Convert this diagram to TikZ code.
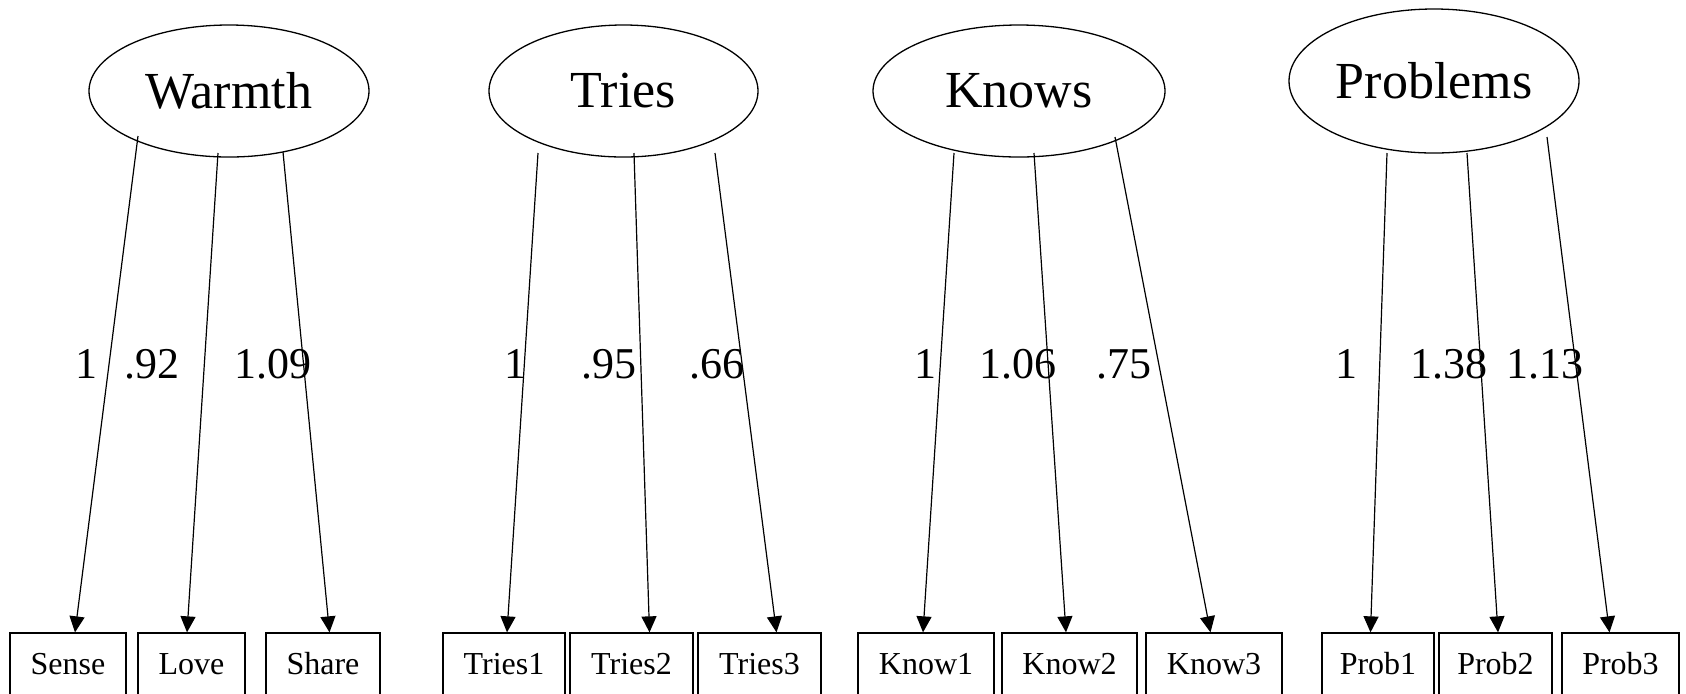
\documentclass[tikz,border=0pt]{standalone}
\usepackage{fontspec}
\setmainfont{Liberation Serif}
\usetikzlibrary{shapes.geometric,arrows.meta}
\begin{document}
\begin{tikzpicture}[x=0.5pt,y=-0.5pt,
  latent/.style={draw,ellipse,inner sep=0pt,line width=0.65pt,
    font=\fontsize{26}{30}\selectfont},
  indicator/.style={draw,rectangle,inner sep=0pt,minimum height=31pt,
    line width=0.65pt,font=\fontsize{16}{19}\selectfont},
  loading/.style={anchor=base,inner sep=0pt,font=\fontsize{22}{26}\selectfont},
  edgeline/.style={line width=0.6pt,-{Triangle[length=8pt,width=7.5pt]}}
]
\useasboundingbox (0,0) rectangle (1686,693);
\clip (0,0) rectangle (1686,693);

% latent factors
\node[latent,minimum width=140pt,minimum height=66pt] (warmth) at (229,91) {Warmth};
\node[latent,minimum width=134.5pt,minimum height=66pt] (tries) at (623.5,91) {Tries};
\node[latent,minimum width=146pt,minimum height=66pt] (knows) at (1019,91) {Knows};
\node[latent,minimum width=145pt,minimum height=72pt] (problems) at (1434,81) {Problems};

% observed indicators
\node[indicator,minimum width=58pt] (sense) at (68,664) {Sense};
\node[indicator,minimum width=53.5pt] (love) at (191.5,664) {Love};
\node[indicator,minimum width=57pt] (share) at (323,664) {Share};
\node[indicator,minimum width=61pt] (tries1) at (504,664) {Tries1};
\node[indicator,minimum width=61.5pt] (tries2) at (631.5,664) {Tries2};
\node[indicator,minimum width=61.5pt] (tries3) at (759.5,664) {Tries3};
\node[indicator,minimum width=68pt] (know1) at (926,664) {Know1};
\node[indicator,minimum width=67.5pt] (know2) at (1069.5,664) {Know2};
\node[indicator,minimum width=68pt] (know3) at (1214,664) {Know3};
\node[indicator,minimum width=56pt] (prob1) at (1378,664) {Prob1};
\node[indicator,minimum width=56.5pt] (prob2) at (1495.5,664) {Prob2};
\node[indicator,minimum width=58.5pt] (prob3) at (1620.5,664) {Prob3};

% factor loadings
\node[loading] (lsense)  at (86,378)   {1};
\node[loading] (llove)   at (152,378)  {.92};
\node[loading] (lshare)  at (272.5,378) {1.09};
\node[loading] (ltries1) at (515.5,378) {1};
\node[loading] (ltries2) at (609,378)  {.95};
\node[loading] (ltries3) at (716.5,378) {.66};
\node[loading] (lknow1)  at (925.5,378) {1};
\node[loading] (lknow2)  at (1018,378) {1.06};
\node[loading] (lknow3)  at (1124,378) {.75};
\node[loading] (lprob1)  at (1346.5,378) {1};
\node[loading] (lprob2)  at (1448.5,378) {1.38};
\node[loading] (lprob3)  at (1545,378) {1.13};

% paths from factors to indicators
\draw[edgeline] ([shift={(-91,45)}]warmth.center) -- ([shift={(7,0)}]sense.north);
\draw[edgeline] ([shift={(-11,62)}]warmth.center) -- ([shift={(-4.5,0)}]love.north);
\draw[edgeline] ([shift={(54,61)}]warmth.center) -- ([shift={(6.5,0)}]share.north);

\draw[edgeline] ([shift={(-85.5,62)}]tries.center) -- ([shift={(3,0)}]tries1.north);
\draw[edgeline] ([shift={(10.5,62)}]tries.center) -- ([shift={(18,0)}]tries2.north);
\draw[edgeline] ([shift={(91.5,62)}]tries.center) -- ([shift={(17,0)}]tries3.north);

\draw[edgeline] ([shift={(-65,62)}]knows.center) -- ([shift={(-3,0)}]know1.north);
\draw[edgeline] ([shift={(15,62)}]knows.center) -- ([shift={(-3.5,0)}]know2.north);
\draw[edgeline] ([shift={(96,46)}]knows.center) -- ([shift={(-3.5,0)}]know3.north);

\draw[edgeline] ([shift={(-47,72)}]problems.center) -- ([shift={(-7.5,0)}]prob1.north);
\draw[edgeline] ([shift={(33,72)}]problems.center) -- ([shift={(2.5,0)}]prob2.north);
\draw[edgeline] ([shift={(113,56)}]problems.center) -- ([shift={(-11,0)}]prob3.north);
\end{tikzpicture}
\end{document}
